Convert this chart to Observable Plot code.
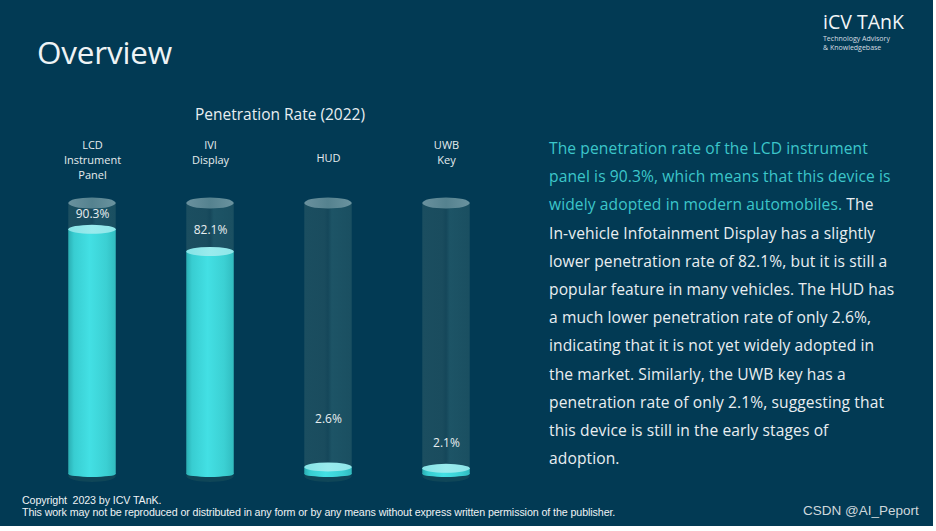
<!DOCTYPE html>
<html>
<head>
<meta charset="utf-8">
<script src="https://cdn.jsdelivr.net/npm/d3@7"></script>
<script src="https://cdn.jsdelivr.net/npm/@observablehq/plot@0.6"></script>
<style>
  html, body { margin: 0; padding: 0; background: #ffffff; }
  #slide { position: relative; width: 933px; height: 526px; background: #023a54; overflow: hidden; font-family: "Open Sans", sans-serif; }
  #title { position: absolute; left: 37px; top: 30px; font-size: 31.5px; color: #eef3f5; letter-spacing: -0.2px; }
  #logo { position: absolute; left: 823px; top: 9px; color: #f2f5f7; }
  #logo .brand { font-family: "Open Sans", sans-serif; font-size: 19.5px; line-height: 25px; }
  #logo .sub { font-size: 7px; line-height: 9px; color: #d6dee2; }
  #chartTitle { position: absolute; left: 0; width: 560px; top: 103px; text-align: center; font-size: 15.5px; color: #e8eef1; }
  #chart { position: absolute; left: 0; top: 125px; }
  #desc { position: absolute; left: 549px; top: 134px; font-size: 15.6px; letter-spacing: 0.1px; line-height: 28.2px; color: #e9eef1; white-space: nowrap; }
  #desc .hl { color: #3cc6ca; }
  #footer { position: absolute; left: 22px; top: 494px; font-family: "Liberation Sans Narrow", "Liberation Sans", sans-serif; font-size: 10.7px; line-height: 12px; color: #eef2f4; letter-spacing: -0.1px; }
  #csdn { position: absolute; left: 803px; top: 503px; font-family: "Liberation Sans", Arial, sans-serif; font-size: 13.5px; color: #cfd8dc; }
</style>
</head>
<body>
<div id="slide">
  <div id="title">Overview</div>
  <div id="logo">
    <div class="brand">iCV TAnK</div>
    <div class="sub">Technology Advisory</div>
    <div class="sub">&amp; Knowledgebase</div>
  </div>
  <div id="chartTitle">Penetration Rate (2022)</div>
  <div id="chart"></div>
  <div id="desc">
    <div class="hl">The penetration rate of the LCD instrument</div>
    <div class="hl">panel is 90.3%, which means that this device is</div>
    <div><span class="hl">widely adopted in modern automobiles.</span> The</div>
    <div>In-vehicle Infotainment Display has a slightly</div>
    <div>lower penetration rate of 82.1%, but it is still a</div>
    <div>popular feature in many vehicles. The HUD has</div>
    <div>a much lower penetration rate of only 2.6%,</div>
    <div>indicating that it is not yet widely adopted in</div>
    <div>the market. Similarly, the UWB key has a</div>
    <div>penetration rate of only 2.1%, suggesting that</div>
    <div>this device is still in the early stages of</div>
    <div>adoption.</div>
  </div>
  <div id="footer">
    <div>Copyright&nbsp; 2023 by ICV TAnK.</div>
    <div>This work may not be reproduced or distributed in any form or by any means without express written permission of the publisher.</div>
  </div>
  <div id="csdn">CSDN @AI_Peport</div>
</div>
<script>
// ---- data ----
const categories = ["LCD\nInstrument\nPanel", "IVI\nDisplay", "HUD", "UWB\nKey"];
const values = [90.3, 82.1, 2.6, 2.1];
const valueLabels = ["90.3%", "82.1%", "2.6%", "2.1%"];
const labelLevels = [96, 90, 20.5, 11.5];
const capacity = 100;

const data = categories.map((c, i) => ({
  category: c, value: values[i], label: valueLabels[i], labelLevel: labelLevels[i]
}));
const multiLine = categories.filter(c => c.includes("\n"));
const singleLine = categories.filter(c => !c.includes("\n"));

const side = 35.3; // horizontal inset so cylinders are ~48px wide
const common = {x: "category", insetLeft: side, insetRight: side};

const chart = Plot.plot({
  width: 540,
  height: 380,
  marginTop: 78,
  marginBottom: 31,
  marginLeft: 32,
  marginRight: 33.5,
  style: {background: "transparent", overflow: "visible"},
  x: {domain: categories, padding: 0, axis: null},
  y: {domain: [0, 100], axis: null},
  marks: [
    Plot.barY(data, {...common, y1: 0, y2: 0, insetTop: -4, insetBottom: -8, rx: 24, ry: 6, fill: "#0f4658"}),
    Plot.barY(data, {...common, y1: 0, y2: () => capacity, fill: "url(#emptyBody)"}),
    Plot.barY(data, {...common, y1: 0, y2: 0, insetTop: -3, insetBottom: -3, rx: 24, ry: 3, fill: "url(#fillBody)"}),
    Plot.barY(data, {...common, y1: 0, y2: "value", fill: "url(#fillBody)"}),
    Plot.barY(data, {...common, y1: "value", y2: "value", insetTop: -4.5, insetBottom: -4.5, rx: 24, ry: 4.5, fill: "url(#fillTop)"}),
    Plot.barY(data, {...common, y1: () => capacity, y2: () => capacity, insetTop: -5.5, insetBottom: -5.5, rx: 24, ry: 5.5, fill: "url(#emptyTop)"}),
    Plot.text(data, {x: "category", y: "labelLevel", text: "label", fill: "#e8eef0", fontSize: 12, fontFamily: "Open Sans"}),
    Plot.text(multiLine, {x: d => d, text: d => d, frameAnchor: "top", lineAnchor: "top", dy: -65, lineHeight: 1.37, fill: "#e6ecee", fontSize: 11, fontFamily: "Open Sans"}),
    Plot.text(singleLine, {x: d => d, text: d => d, frameAnchor: "top", lineAnchor: "middle", dy: -45, fill: "#e6ecee", fontSize: 11, fontFamily: "Open Sans"})
  ]
});

const defs = d3.select(chart).insert("defs", ":first-child");
function grad(id, stops) {
  const g = defs.append("linearGradient").attr("id", id).attr("x1", 0).attr("x2", 1).attr("y1", 0).attr("y2", 0);
  stops.forEach(([o, c]) => g.append("stop").attr("offset", o).attr("stop-color", c));
}
grad("emptyBody", [[0, "#1b4e60"], [0.42, "#1a4c5e"], [0.5, "#15475a"], [0.58, "#1d5466"], [1, "#1a4f61"]]);
grad("emptyTop", [[0, "#6a919e"], [0.5, "#55828f"], [1, "#6a939f"]]);
grad("fillBody", [[0, "#2aaeb3"], [0.12, "#38cdd1"], [0.45, "#43e0e4"], [0.8, "#3bd0d3"], [1, "#31bcc0"]]);
grad("fillTop", [[0, "#86e3e6"], [0.5, "#9aebed"], [1, "#8fe6e9"]]);

document.getElementById("chart").appendChild(chart);
</script>
</body>
</html>
